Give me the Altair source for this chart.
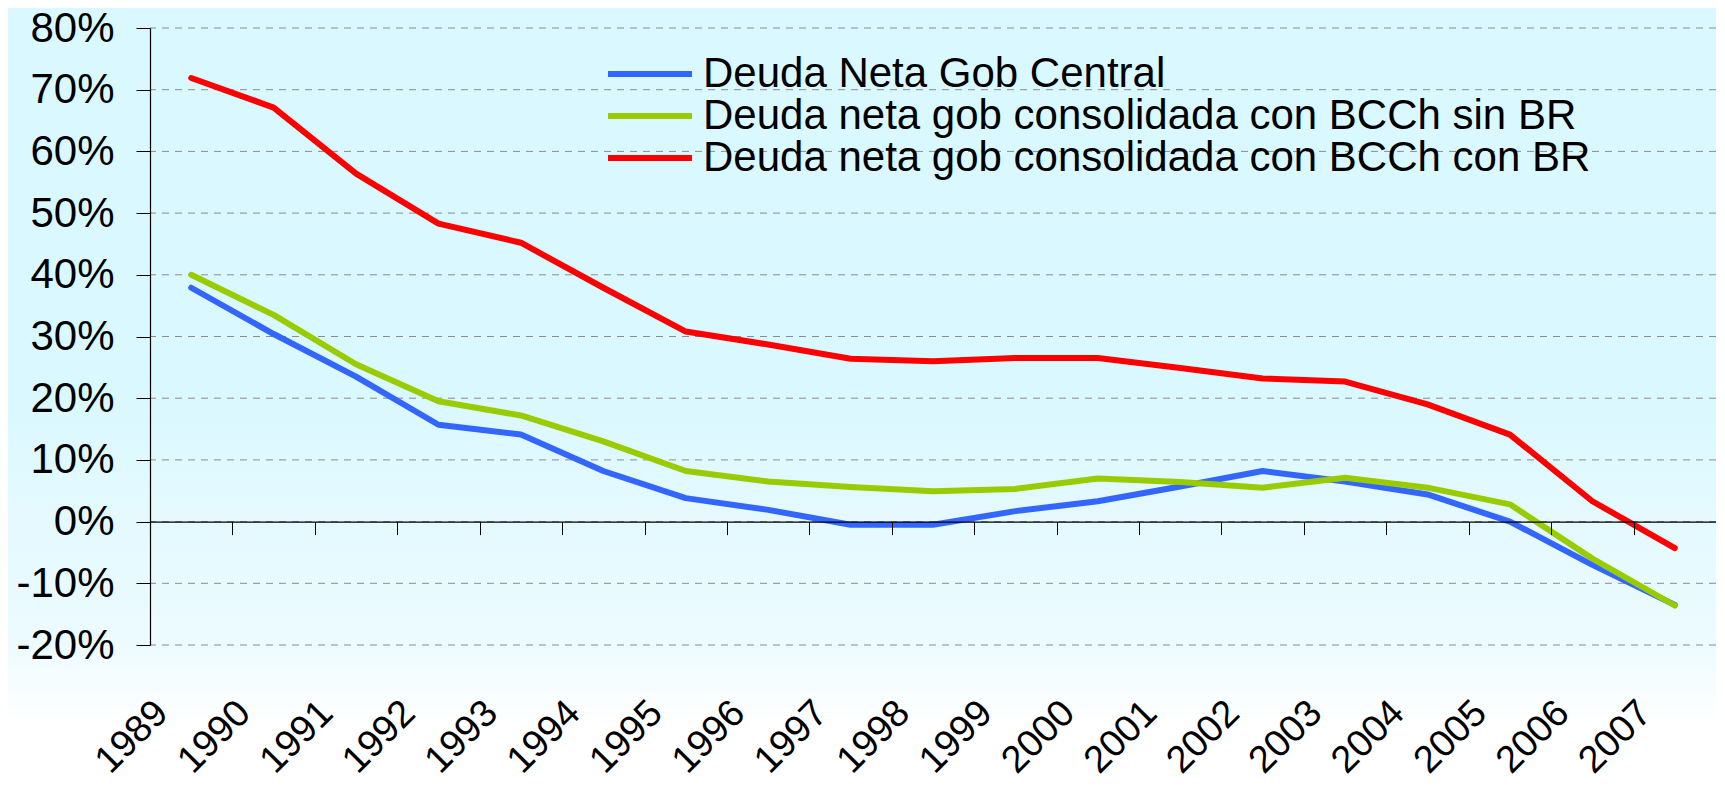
import altair as alt
import pandas as pd

years = [str(y) for y in range(1989, 2008)]
series_names = [
    "Deuda Neta Gob Central",
    "Deuda neta gob consolidada con BCCh sin BR",
    "Deuda neta gob consolidada con BCCh con BR",
]
series_colors = ["#3366FF", "#99CC00", "#FF0000"]

central = [37.9, 30.4, 23.5, 15.7, 14.1, 8.2, 3.8, 1.9, -0.5, -0.5, 1.7, 3.3, 5.7, 8.2, 6.5, 4.4, 0.0, -7.0, -13.5]
sin_br = [40.0, 33.5, 25.5, 19.5, 17.2, 13.0, 8.2, 6.5, 5.6, 4.9, 5.3, 7.0, 6.4, 5.5, 7.1, 5.5, 2.8, -6.0, -13.6]
con_br = [71.9, 67.1, 56.4, 48.3, 45.2, 37.9, 30.8, 28.7, 26.4, 26.0, 26.5, 26.5, 24.9, 23.2, 22.7, 19.0, 14.1, 3.3, -4.3]

y_ticks = [-20, -10, 0, 10, 20, 30, 40, 50, 60, 70, 80]

rows = []
for name, vals in zip(series_names, [central, sin_br, con_br]):
    for yr, v in zip(years, vals):
        rows.append({"year": yr, "value": v, "series": name})
df = pd.DataFrame(rows)
grid_df = pd.DataFrame({"v": y_ticks})

W, H = 1566, 617
PAD = {"left": 142, "top": 20, "right": 0, "bottom": 132}
FONT = "Liberation Sans"

xscale = alt.Scale(type="band", domain=years, paddingInner=0, paddingOuter=0)
yscale = alt.Scale(domain=[-20, 80], nice=False, zero=False)

yaxis = alt.Axis(values=y_ticks, labelExpr="datum.value + '%'", labelFontSize=42,
                 labelFont=FONT, labelColor="black", labelPadding=22, tickSize=14,
                 tickColor="black", domainColor="black", domainWidth=1.2, grid=False,
                 title=None, zindex=1)

label_axis = alt.Axis(orient="bottom", labelAngle=-45, labelAlign="right",
                      labelBaseline="middle", labelFontSize=38, labelFont=FONT,
                      labelColor="black", labelPadding=62, labelOffset=-29,
                      ticks=False, domain=False, grid=False, title=None,
                      labelOverlap=False, zindex=1)

zero_axis = alt.Axis(orient="bottom", offset=-0.2 * H, labels=False, domain=True,
                     domainColor="black", domainWidth=1.2, ticks=True, tickBand="extent",
                     tickSize=13, tickColor="black", tickWidth=1, grid=False,
                     title=None, zindex=1)

gradient = alt.LinearGradient(
    gradient="linear",
    stops=[
        alt.GradientStop(offset=0, color="#DAF8FF"),
        alt.GradientStop(offset=0.5, color="#DAF8FF"),
        alt.GradientStop(offset=0.83, color="#EDFBFF"),
        alt.GradientStop(offset=0.93, color="#FFFFFF"),
        alt.GradientStop(offset=1, color="#FFFFFF"),
    ],
    x1=0, x2=0, y1=0, y2=1,
)

bg = alt.Chart(pd.DataFrame({"k": [0]})).mark_rect(color=gradient, clip=False).encode(
    x=alt.value(-PAD["left"]), x2=alt.value(W + PAD["right"]),
    y=alt.value(-PAD["top"]), y2=alt.value(H + PAD["bottom"]),
)

grid = alt.Chart(grid_df).mark_rule(color="#8c8c8c", strokeDash=[7, 6], strokeWidth=1).encode(
    y=alt.Y("v:Q", scale=yscale, axis=yaxis)
)

zero_layer = alt.Chart(df).mark_point(opacity=0).encode(
    x=alt.X("year:N", scale=xscale, axis=zero_axis)
)

legend = alt.Legend(title=None, orient="none", legendX=479, legendY=25,
                    symbolType="M-2.4,0H2.4", symbolSize=1225, symbolStrokeWidth=6,
                    labelFontSize=42, labelFont=FONT, labelColor="black",
                    labelLimit=0, labelOffset=32, rowPadding=0, padding=0)

lines = alt.Chart(df).mark_line(strokeWidth=6, strokeCap="round", strokeJoin="round").encode(
    x=alt.X("year:N", scale=xscale, axis=label_axis),
    y=alt.Y("value:Q", scale=yscale, axis=yaxis),
    color=alt.Color("series:N", scale=alt.Scale(domain=series_names, range=series_colors),
                    legend=legend),
    order=alt.Order("year:N"),
)

chart = alt.layer(bg, grid, zero_layer, lines).resolve_axis(x="independent").properties(
    width=W, height=H, autosize=alt.AutoSizeParams(type="none"), padding=PAD,
).configure_view(stroke=None).configure(font=FONT)

chart.save("out.html", embed_options={"renderer": "svg", "actions": False})
